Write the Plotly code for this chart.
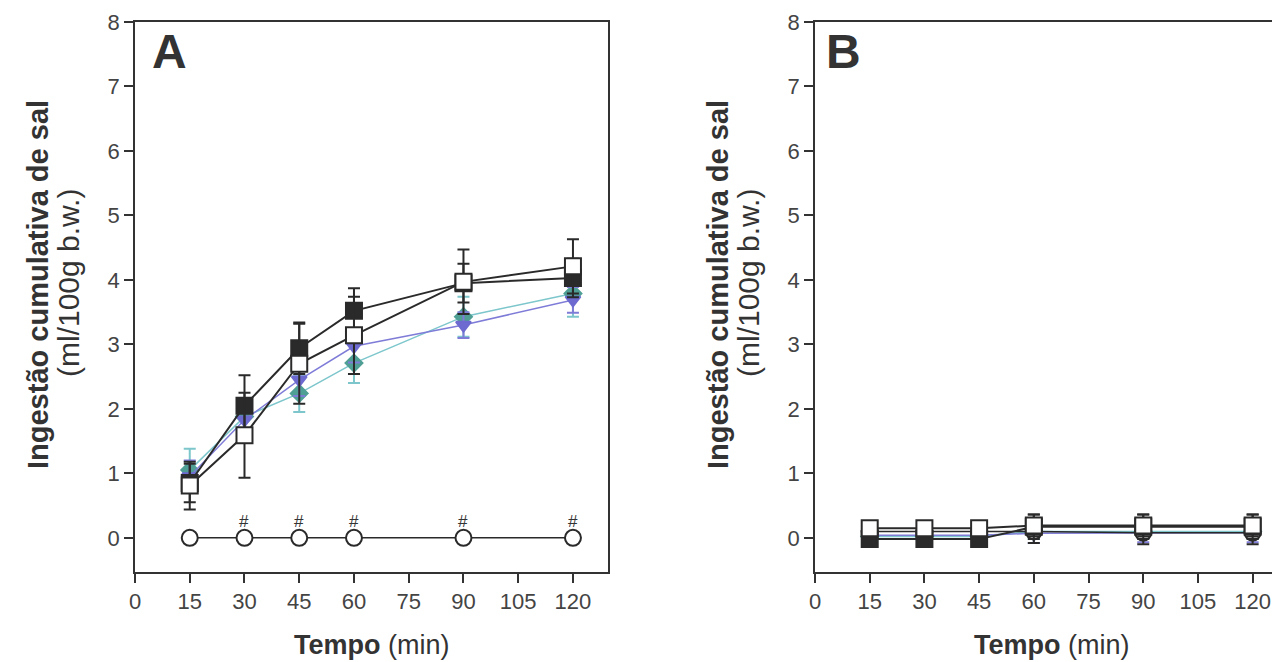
import plotly.graph_objects as go

# ---------------- data ----------------
tempo = [15, 30, 45, 60, 90, 120]
x_ticks = [0, 15, 30, 45, 60, 75, 90, 105, 120]
y_ticks = [0, 1, 2, 3, 4, 5, 6, 7, 8]
hash_points = [30, 45, 60, 90, 120]

# Panel A
a_filled_sq = [0.85, 2.05, 2.94, 3.52, 3.95, 4.03]
a_filled_sq_err = [0.30, 0.47, 0.40, 0.35, 0.30, 0.30]
a_open_sq = [0.81, 1.59, 2.70, 3.14, 3.97, 4.21]
a_open_sq_err = [0.37, 0.66, 0.62, 0.60, 0.50, 0.42]
a_purple = [0.95, 1.83, 2.45, 2.97, 3.30, 3.69]
a_purple_err = [0.25, 0.25, 0.25, 0.25, 0.20, 0.20]
a_teal = [1.05, 1.88, 2.24, 2.71, 3.43, 3.79]
a_teal_err = [0.33, 0.25, 0.29, 0.31, 0.31, 0.36]
a_circle = [0, 0, 0, 0, 0, 0]

# Panel B
b_filled_sq = [-0.02, -0.02, -0.02, 0.17, 0.17, 0.17]
b_filled_sq_err = [0.03, 0.03, 0.03, 0.19, 0.19, 0.19]
b_open_sq = [0.15, 0.15, 0.15, 0.19, 0.19, 0.19]
b_open_sq_err = [0.05, 0.05, 0.05, 0.17, 0.17, 0.17]
b_purple = [0.04, 0.04, 0.04, 0.07, 0.08, 0.08]
b_purple_err = [0.03, 0.03, 0.03, 0.15, 0.15, 0.15]
b_teal = [0.02, 0.02, 0.02, 0.10, 0.10, 0.10]
b_teal_err = [0.03, 0.03, 0.03, 0.12, 0.12, 0.12]
b_circle = [0.10, 0.10, 0.10, 0.10, 0.08, 0.08]
b_circle_err = [0.03, 0.03, 0.03, 0.18, 0.18, 0.18]

# ---------------- style ----------------
DARK = "#2a2a2a"
TEAL_LINE = "#7cc6cc"
TEAL_MK = "#4f9f95"
PURPLE_LINE = "#7f7cd8"
PURPLE_MK = "#6d6ad0"
FONT = "Liberation Sans, Arial, sans-serif"
OFF = 8                      # page body margin
W, H = 1280 - OFF, 662 - OFF


def px(sx):
    return (sx - OFF) / W


def py(sy):
    return 1 - (sy - OFF) / H


fig = go.Figure()


def add_series(xa, ya, y, err, line_color, line_w, symbol, size, mk_fill, mk_line, err_color):
    fig.add_trace(go.Scatter(
        x=tempo, y=y, xaxis=xa, yaxis=ya, mode="lines+markers",
        line=dict(color=line_color, width=line_w),
        marker=dict(symbol=symbol, size=size, color=mk_fill,
                    line=dict(color=mk_line, width=2)),
        error_y=dict(type="data", array=err, visible=err is not None,
                     color=err_color, thickness=2, width=6),
        showlegend=False, hoverinfo="skip",
    ))


for xa, ya, data in [
    ("x", "y", dict(teal=(a_teal, a_teal_err), purple=(a_purple, a_purple_err),
                    circle=(a_circle, None), filled=(a_filled_sq, a_filled_sq_err),
                    open=(a_open_sq, a_open_sq_err))),
    ("x2", "y2", dict(teal=(b_teal, b_teal_err), purple=(b_purple, b_purple_err),
                      circle=(b_circle, b_circle_err), filled=(b_filled_sq, b_filled_sq_err),
                      open=(b_open_sq, b_open_sq_err))),
]:
    add_series(xa, ya, data["teal"][0], data["teal"][1], TEAL_LINE, 1.5, "diamond", 13, TEAL_MK, TEAL_MK, TEAL_LINE)
    add_series(xa, ya, data["purple"][0], data["purple"][1], PURPLE_LINE, 1.5, "triangle-down", 13, PURPLE_MK, PURPLE_MK, PURPLE_LINE)
    add_series(xa, ya, data["circle"][0], data["circle"][1], DARK, 1.5, "circle", 16, "white", DARK, DARK)
    add_series(xa, ya, data["filled"][0], data["filled"][1], DARK, 2, "square", 16, DARK, DARK, DARK)
    add_series(xa, ya, data["open"][0], data["open"][1], DARK, 2, "square", 16, "white", DARK, DARK)

axis_common = dict(
    showgrid=False, zeroline=False, showline=True, linecolor="#333", linewidth=1.5,
    ticks="outside", ticklen=9, tickwidth=1.5, tickcolor="#333",
    tickfont=dict(family=FONT, size=22, color="#444"),
)

fig.update_layout(
    width=W, height=H,
    margin=dict(l=0, r=0, t=0, b=0, autoexpand=False),
    paper_bgcolor="white", plot_bgcolor="white",
    xaxis=dict(domain=[px(135), px(608)], range=[0, 129.6], tickvals=x_ticks,
               mirror=True, anchor="y", **axis_common),
    yaxis=dict(domain=[py(572), py(22)], range=[-0.53, 8], tickvals=y_ticks,
               mirror=True, anchor="x", **axis_common),
    xaxis2=dict(domain=[px(815), 1.0], range=[0, 127.5], tickvals=x_ticks,
                mirror=True, anchor="y2", **axis_common),
    yaxis2=dict(domain=[py(572), py(22)], range=[-0.53, 8], tickvals=y_ticks,
                mirror=False, anchor="x2", **axis_common),
)

ann = []
for hp in hash_points:
    ann.append(dict(x=hp, y=0.25, xref="x", yref="y", text="#", showarrow=False,
                    font=dict(family=FONT, size=17, color="#333")))
for lx, txt in ((150, "<b>A</b>"), (824, "<b>B</b>")):
    ann.append(dict(x=px(lx), y=py(52), xref="paper", yref="paper", text=txt,
                    showarrow=False, xanchor="left", yanchor="middle",
                    font=dict(family=FONT, size=48, color="#333")))
for xc in (38, 718):
    ann.append(dict(x=px(xc), y=py(285), xref="paper", yref="paper",
                    xanchor="center", yanchor="middle",
                    text="<b>Ingestão cumulativa de sal</b>", textangle=-90, showarrow=False,
                    font=dict(family=FONT, size=29, color="#333")))
    ann.append(dict(x=px(xc + 30), y=py(283), xref="paper", yref="paper",
                    xanchor="center", yanchor="middle",
                    text="(ml/100g b.w.)", textangle=-90, showarrow=False,
                    font=dict(family=FONT, size=30, color="#333")))
for xc in (372, 1052):
    ann.append(dict(x=px(xc), y=py(645), xref="paper", yref="paper",
                    xanchor="center", yanchor="middle",
                    text="<b>Tempo</b> (min)", showarrow=False,
                    font=dict(family=FONT, size=27, color="#333")))
fig.update_layout(annotations=ann)

fig.write_html("out.html")
